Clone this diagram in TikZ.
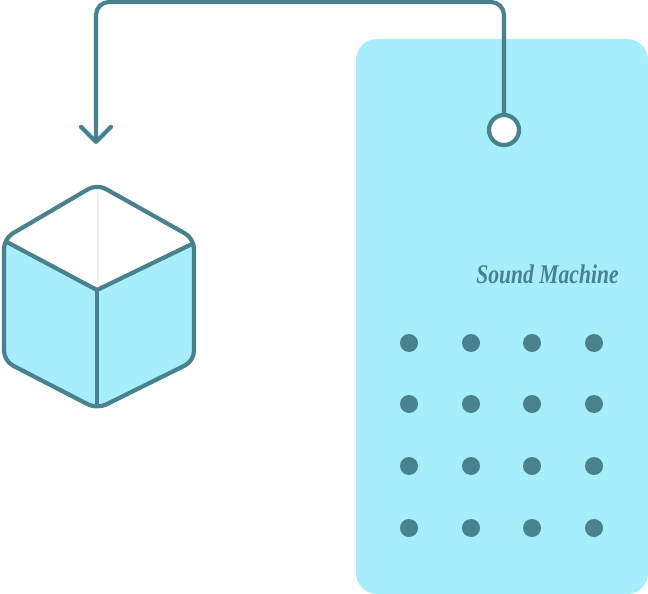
\documentclass[tikz,border=0pt]{standalone}
\usepackage{fontspec}
\newfontfamily\titleface{Liberation Serif}
\usetikzlibrary{arrows.meta}
\definecolor{teal}{HTML}{48828F}
\definecolor{sky}{HTML}{A6EEFB}
\definecolor{seam}{HTML}{EFF2F4}
\tikzset{
  panel/.style={fill=sky,draw=none,rounded corners=21pt},
  edgeline/.style={draw=teal,line width=4.2pt,line join=round},
  dot/.style={circle,fill=teal,draw=none,minimum size=18pt,inner sep=0pt},
  port/.style={circle,fill=white,draw=teal,line width=4.2pt,minimum size=30pt,inner sep=0pt},
  link/.style={draw=teal,line width=4.2pt,rounded corners=13pt,
    -{Straight Barb[length=15pt,width=30pt,line width=4.2pt,round]}}
}
\begin{document}
\begin{tikzpicture}[x=1pt,y=-1pt]
\useasboundingbox (0,0) rectangle (648,594);
\fill[panel] (356,39) rectangle (648,594);
% cube
\fill[sky,rounded corners=10pt] (97,184) -- (194,238.5) -- (194,361) -- (97,409) -- (4,361) -- (4,238.5) -- cycle;
\fill[white,rounded corners=10pt] (97,184) -- (194,238.5) -- (194,243) -- (97,290) -- (4,241) -- (4,238.5) -- cycle;
\draw[seam,line width=2.5pt] (98,190) -- (98,288);
\draw[edgeline,rounded corners=10pt] (97,184) -- (194,238.5) -- (194,361) -- (97,409) -- (4,361) -- (4,238.5) -- cycle;
\draw[edgeline] (5,241) -- (97,290) -- (192,244);
\draw[edgeline] (97,290) -- (97,405);
% dots
\foreach \r/\y in {a/343,b/404,c/466,d/528}
  \foreach \c/\x in {1/409,2/471,3/532,4/594}
    \node[dot] (dot\r\c) at (\x,\y) {};
\node[text=teal,font=\titleface\bfseries\itshape\fontsize{27}{27}\selectfont,inner sep=0pt,xscale=.8,transform shape] (title) at (547.5,274) {Sound Machine};
\node[port] (port) at (504,130) {};
\coordinate (target) at (96,144);
\draw[link] (port.north) -- (504,2) -- (96,2) -- (target);
\end{tikzpicture}
\end{document}
